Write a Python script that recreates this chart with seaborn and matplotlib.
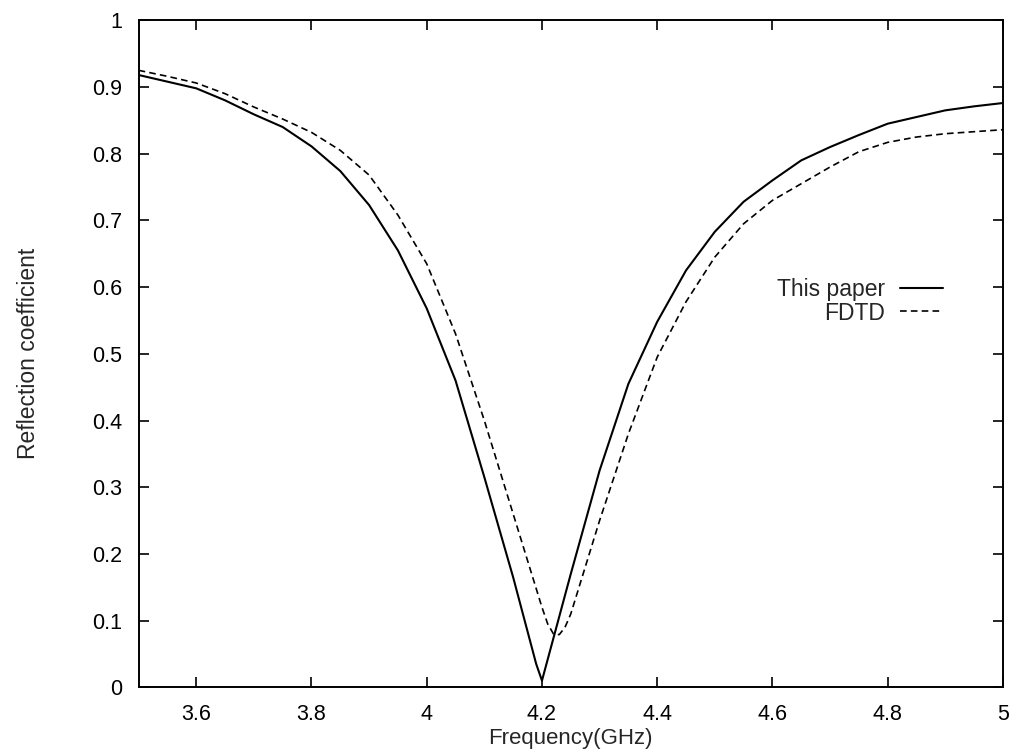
import numpy as np
import pandas as pd
import matplotlib
matplotlib.use("Agg")
import matplotlib.pyplot as plt
import seaborn as sns
from matplotlib.ticker import FormatStrFormatter, MultipleLocator

# Frequency samples (GHz) and reflection coefficients
freq_paper = [3.5, 3.55, 3.6, 3.65, 3.7, 3.75, 3.8, 3.85, 3.9, 3.95, 4.0,
              4.05, 4.1, 4.15, 4.19, 4.2, 4.25, 4.3, 4.35, 4.4, 4.45, 4.5,
              4.55, 4.6, 4.65, 4.7, 4.75, 4.8, 4.85, 4.9, 4.95, 5.0]
refl_paper = [0.918, 0.908, 0.898, 0.880, 0.859, 0.840, 0.811, 0.774, 0.723,
              0.655, 0.568, 0.460, 0.315, 0.165, 0.035, 0.010, 0.170, 0.325,
              0.455, 0.548, 0.625, 0.683, 0.728, 0.760, 0.790, 0.810, 0.828,
              0.845, 0.855, 0.865, 0.871, 0.876]

freq_fdtd = [3.5, 3.55, 3.6, 3.65, 3.7, 3.75, 3.8, 3.85, 3.9, 3.95, 4.0,
             4.05, 4.1, 4.15, 4.2, 4.21, 4.22, 4.23, 4.24, 4.25, 4.3, 4.35,
             4.4, 4.45, 4.5, 4.55, 4.6, 4.65, 4.7, 4.75, 4.8, 4.85, 4.9,
             4.95, 5.0]
refl_fdtd = [0.925, 0.916, 0.906, 0.890, 0.870, 0.852, 0.832, 0.805, 0.768,
             0.708, 0.635, 0.530, 0.400, 0.260, 0.120, 0.095, 0.080, 0.079,
             0.090, 0.110, 0.250, 0.380, 0.495, 0.578, 0.645, 0.695, 0.730,
             0.755, 0.780, 0.803, 0.817, 0.825, 0.830, 0.833, 0.836]

x_ticks = [3.6, 3.8, 4.0, 4.2, 4.4, 4.6, 4.8, 5.0]

sns.set_style("ticks")
plt.rcParams['font.family'] = ['Liberation Sans', 'DejaVu Sans']

fig, ax = plt.subplots(figsize=(10.12, 7.52), dpi=100)
fig.subplots_adjust(left=0.137, right=0.991, top=0.973, bottom=0.086)

df_paper = pd.DataFrame({'freq': freq_paper, 'refl': refl_paper})
df_fdtd = pd.DataFrame({'freq': freq_fdtd, 'refl': refl_fdtd})

sns.lineplot(data=df_paper, x='freq', y='refl', ax=ax, color='black',
             lw=1.5, label='This paper', sort=False)
sns.lineplot(data=df_fdtd, x='freq', y='refl', ax=ax, color='black',
             lw=1.2, label='FDTD', sort=False)
ax.lines[1].set_dashes((4, 2.5))

ax.set_xlim(3.5, 5.0)
ax.set_ylim(0, 1)
ax.set_xticks(x_ticks)
ax.yaxis.set_major_locator(MultipleLocator(0.1))
ax.xaxis.set_major_formatter(FormatStrFormatter('%g'))
ax.yaxis.set_major_formatter(FormatStrFormatter('%g'))
ax.tick_params(direction='in', length=7, width=1.2, top=True, right=True,
               labelsize=15.5, colors='black')
ax.tick_params(axis='x', pad=12)
ax.tick_params(axis='y', pad=12)

for side in ax.spines.values():
    side.set_linewidth(1.4)
    side.set_color('black')

ax.set_xlabel('Frequency(GHz)', fontsize=16, labelpad=2)
ax.set_ylabel('Reflection coefficient', fontsize=16.5, labelpad=37)

leg = ax.legend(loc='upper right', bbox_to_anchor=(0.941, 0.628),
                frameon=False, markerfirst=False, fontsize=16.5,
                handlelength=1.85, handletextpad=0.65, labelspacing=0.04,
                borderaxespad=0)
for t in leg.get_texts():
    t.set_ha('right')

fig.savefig('out.png', dpi=100)
